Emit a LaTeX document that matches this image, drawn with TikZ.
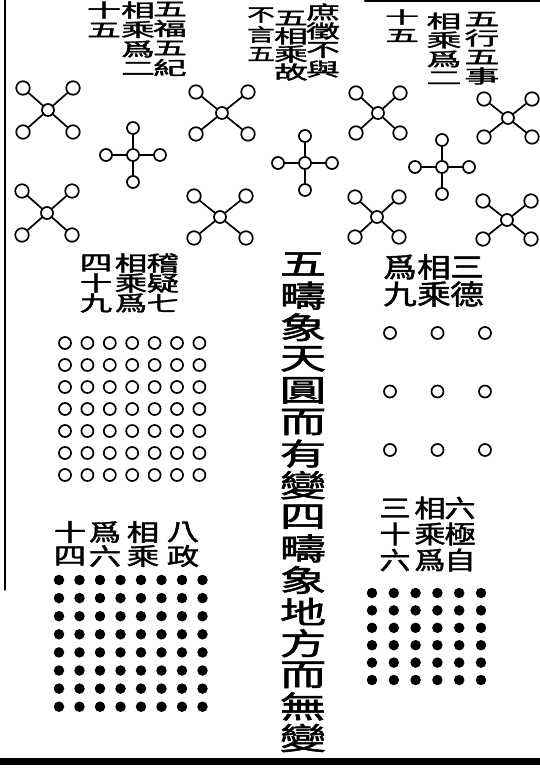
\documentclass[tikz,border=0pt]{standalone}
\usepackage{fontspec}
\usepackage{graphicx}
\newfontfamily\cjk{Noto Sans CJK TC}[FakeBold=1.6]
\usetikzlibrary{positioning}

\tikzset{
  ring/.style={circle, draw, line width=1.7pt, minimum size=13.5pt, inner sep=0pt},
  hub/.style={circle, draw, line width=1.7pt, minimum size=12pt, inner sep=0pt},
  knob/.style={circle, draw, line width=1.7pt, minimum size=12pt, inner sep=0pt},
  stick/.style={line width=1.7pt},
  hole/.style={circle, draw, line width=1.7pt, minimum size=12pt, inner sep=0pt},
  pip/.style={circle, fill, minimum size=10.5pt, inner sep=0pt},
  tag/.style={inner sep=0pt, text=black}
}

% vertical column of characters: name, x, first y, pitch, size, xscale, yscale, chars
\newcommand{\vcol}[8]{%
  \foreach \ch [count=\k] in {#8}
    \node[tag, font=\cjk\fontsize{#5}{#5}\selectfont] (#1-\k)
      at (#2,{#3+(\k-1)*#4}) {\scalebox{#6}[#7]{\ch}};}

% five circles on the diagonals: name, x, y, dx, dy
\newcommand{\xfig}[5]{%
  \node[hub] (#1) at (#2,#3) {};
  \node[ring] (#1-a) at ({#2-#4},{#3-#5}) {};
  \node[ring] (#1-b) at ({#2+#4},{#3-#5}) {};
  \node[ring] (#1-c) at ({#2-#4},{#3+#5}) {};
  \node[ring] (#1-d) at ({#2+#4},{#3+#5}) {};
  \foreach \k in {a,b,c,d} \draw[stick] (#1) -- (#1-\k);}

% five circles on a cross: name, x, y, d
\newcommand{\pfig}[4]{%
  \node[hub] (#1) at (#2,#3) {};
  \node[knob] (#1-a) at (#2,{#3-#4}) {};
  \node[knob] (#1-b) at ({#2+#4},#3) {};
  \node[knob] (#1-c) at (#2,{#3+#4}) {};
  \node[knob] (#1-d) at ({#2-#4},#3) {};
  \foreach \k in {a,b,c,d} \draw[stick] (#1) -- (#1-\k);}

\begin{document}
\begin{tikzpicture}[x=1pt, y=-1pt, line cap=round]

  \fill[white] (0,0) rectangle (540,774);
  \useasboundingbox (0,0) rectangle (540,774);

  %--- frame
  \draw[line width=1.3pt] (5,0) -- (5,590);
  \draw[line width=2.5pt] (365,1) -- (540,1);
  \draw[line width=7pt] (0,761) -- (540,761);

  %--- labels of the upper figures
  \vcol{fw}{170}{9}{19.5}{27}{1.25}{0.69}{五,福,五,紀}
  \vcol{fwm}{138}{10}{19.5}{27}{1.25}{0.69}{相,乘,爲,二}
  \vcol{fwn}{104}{10}{20}{27}{1.25}{0.69}{十,五}

  \vcol{sz}{323}{12}{19}{27}{1.25}{0.69}{庶,徵,不,與}
  \vcol{szm}{291}{18}{18}{27}{1.25}{0.69}{五,相,乘,故}
  \vcol{szn}{261}{15}{19.5}{23}{1.2}{0.78}{不,言,五}

  \vcol{wx}{482}{19}{19}{28}{1.25}{0.66}{五,行,五,事}
  \vcol{wxm}{444}{21}{19}{28}{1.25}{0.66}{相,乘,爲,二}
  \vcol{wxn}{402}{17}{18.5}{27}{1.25}{0.62}{十,五}

  %--- five times five
  \xfig{fa}{48}{110}{25}{22}
  \xfig{fb}{47}{213}{25}{22}
  \pfig{fc}{133}{155}{27}
  \xfig{fd}{222}{113}{26}{21}
  \xfig{fe}{220}{217}{26}{21}

  %--- the single one
  \pfig{sa}{305}{163}{27}

  %--- five times five
  \xfig{wa}{378}{113}{22}{20}
  \xfig{wb}{377}{217}{22}{20}
  \pfig{wc}{442}{167}{27}
  \xfig{wd}{508}{118}{24}{19}
  \xfig{we}{507}{220}{24}{19}

  %--- middle column
  \vcol{mid}{303}{264}{31.6}{38}{1.22}{0.8}{五,疇,象,天,圓,而,有,變,四,疇,象,地,方,而,無,變}

  %--- seven times seven
  \vcol{jy}{163}{263}{20}{27}{1.2}{0.78}{稽,疑,七}
  \vcol{jym}{131}{263}{20}{27}{1.2}{0.78}{相,乘,爲}
  \vcol{jyn}{96}{263}{20}{27}{1.2}{0.78}{四,十,九}
  \foreach \row in {0,...,6}
    \foreach \col in {0,...,6}
      \node[hole] (s-\row-\col) at ({65+22.4*\col},{343+22*\row}) {};

  %--- three times three
  \vcol{sd}{467}{267}{27}{28}{1.2}{0.98}{三,德}
  \vcol{sdm}{434}{267}{27}{28}{1.2}{0.98}{相,乘}
  \vcol{sdn}{400}{267}{27}{28}{1.2}{0.98}{爲,九}
  \foreach \row in {0,1,2}
    \foreach \col in {0,1,2}
      \node[hole] (t-\row-\col) at ({390+47.5*\col},{333+58.5*\row}) {};

  %--- eight times eight
  \vcol{bz}{183}{532}{24}{27}{1.2}{0.88}{八,政}
  \vcol{bzm}{143}{532}{24}{27}{1.2}{0.88}{相,乘}
  \vcol{bzn}{105}{532}{24}{27}{1.2}{0.88}{爲,六}
  \vcol{bzo}{70}{532}{24}{27}{1.2}{0.88}{十,四}
  \foreach \row in {0,...,7}
    \foreach \col in {0,...,7}
      \node[pip] (e-\row-\col) at ({59+20.5*\col},{580+18.1*\row}) {};

  %--- six times six
  \vcol{lj}{460}{508}{26}{26}{1.2}{0.95}{六,極,自}
  \vcol{ljm}{430}{508}{26}{26}{1.2}{0.95}{相,乘,爲}
  \vcol{ljn}{395}{508}{26}{26}{1.2}{0.95}{三,十,六}
  \foreach \row in {0,...,5}
    \foreach \col in {0,...,5}
      \node[pip] (x-\row-\col) at ({372+21.8*\col},{593+17.4*\row}) {};

\end{tikzpicture}
\end{document}
